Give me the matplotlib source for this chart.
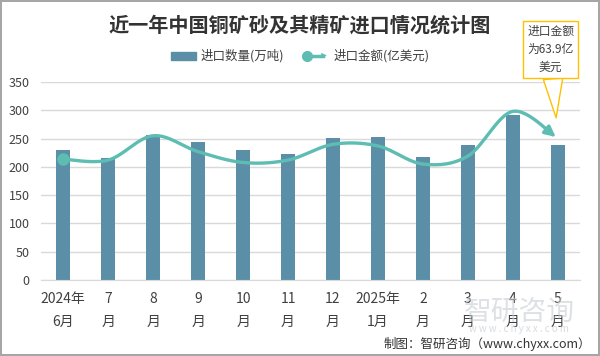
import numpy as np
import matplotlib
matplotlib.use("Agg")
import matplotlib.pyplot as plt
from matplotlib.legend_handler import HandlerBase
from matplotlib.lines import Line2D
from matplotlib.patches import Patch, FancyArrowPatch

plt.rcParams["font.family"] = ["Noto Sans CJK SC", "DejaVu Sans"]

months = ["2024年\n6月", "7\n月", "8\n月", "9\n月", "10\n月", "11\n月", "12\n月",
          "2025年\n1月", "2\n月", "3\n月", "4\n月", "5\n月"]
volume = [230, 216, 256, 244, 230, 223, 251, 253, 218, 239, 292, 239]      # 万吨
amount = [54.6, 54.2, 65.2, 58.0, 53.1, 54.2, 61.3, 60.6, 52.4, 56.0, 76.2, 63.9]  # 亿美元

bar_color = "#5B8FA8"
line_color = "#5DBDB3"
text_color = "#404040"


def smooth(xs, ys, n=30):
    # bezier smoothing like office charts (tension 1/6)
    p = np.column_stack([xs, ys]).astype(float)
    ext = np.vstack([p[0], p, p[-1]])
    out = []
    for i in range(len(p) - 1):
        p0, p3 = ext[i + 1], ext[i + 2]
        c1 = p0 + (ext[i + 2] - ext[i]) / 6
        c2 = p3 - (ext[i + 3] - ext[i + 1]) / 6
        t = np.linspace(0, 1, n)[:, None]
        seg = ((1 - t) ** 3 * p0 + 3 * (1 - t) ** 2 * t * c1
               + 3 * (1 - t) * t ** 2 * c2 + t ** 3 * p3)
        out.append(seg if i == 0 else seg[1:])
    out = np.vstack(out)
    return out[:, 0], out[:, 1]


class LineArrowHandler(HandlerBase):
    def create_artists(self, legend, orig_handle, xd, yd, width, height, fontsize, trans):
        y = height / 2 - yd
        ln = Line2D([-xd + 2, -xd + width - 4], [y, y], color=line_color, lw=2.5, transform=trans)
        dot = Line2D([-xd + 3], [y], marker="o", ms=7, color=line_color, transform=trans)
        arr = FancyArrowPatch((-xd + width - 8, y), (-xd + width + 1, y), arrowstyle="-|>",
                              mutation_scale=10, color=line_color, transform=trans, lw=0)
        return [ln, dot, arr]


fig = plt.figure(figsize=(6.0, 3.56), dpi=100)
fig.patch.set_edgecolor("#A6A6A6")
fig.patch.set_linewidth(1.5)
ax = fig.add_axes([0.068, 0.2135, 0.899, 0.556])
x = np.arange(len(months))

ax.bar(x, volume, width=0.31, color=bar_color, zorder=2)
ax.set_xlim(-0.5, len(months) - 0.5)
ax.set_ylim(0, 350)
ax.set_yticks(range(0, 351, 50))
ax.grid(axis="y", color="#D9D9D9", lw=1, zorder=0)
ax.set_axisbelow(True)
for s in ["left", "right", "top"]:
    ax.spines[s].set_visible(False)
ax.spines["bottom"].set_color("#D9D9D9")
ax.tick_params(axis="y", length=0, labelsize=9, colors=text_color, pad=8)
ax.tick_params(axis="x", length=0, labelsize=10, colors=text_color, pad=9)
ax.set_xticks(x)
ax.set_xticklabels(months, linespacing=1.75)

ax2 = ax.twinx()
ax2.set_ylim(0, 350 * amount[-1] / 250)
ax2.axis("off")
sx, sy = smooth(x, amount)
ax2.plot(sx[:-6], sy[:-6], color=line_color, lw=2.4, zorder=3, solid_capstyle="round")
ax2.annotate("", xy=(sx[-1], sy[-1]), xytext=(sx[-8], sy[-8]),
             arrowprops=dict(arrowstyle="-|>", color=line_color, lw=2.4, mutation_scale=15))
ax2.plot(x[0], amount[0], "o", color=line_color, ms=8, zorder=4)

ax2.annotate("进口金额\n为%.1f亿\n美元" % amount[-1], xy=(x[-1], amount[-1]),
             xytext=(-5, 64), textcoords="offset points", ha="center", va="center",
             fontsize=8.5, color=text_color, linespacing=1.5,
             bbox=dict(boxstyle="square,pad=0.35", fc="white", ec="#FFC000", lw=1),
             arrowprops=dict(arrowstyle="wedge,tail_width=1.0", fc="white", ec="#FFC000",
                             lw=1, shrinkB=15, shrinkA=0, mutation_scale=14))

fig.text(0.5, 0.93, "近一年中国铜矿砂及其精矿进口情况统计图", ha="center", va="center",
         fontsize=14.5, fontweight="bold", color="#333333")

handles = [Patch(color=bar_color), Line2D([], [])]
fig.legend(handles, ["进口数量(万吨)", "进口金额(亿美元)"], loc="center",
           bbox_to_anchor=(0.5, 0.842), ncol=2, frameon=False, fontsize=9,
           handlelength=2.0, handleheight=0.6, columnspacing=1.5, handletextpad=0.4,
           handler_map={Line2D: LineArrowHandler()}, labelcolor=text_color)

# watermark
fig.text(0.865, 0.125, "智研咨询", ha="center", va="center", fontsize=20,
         color="#C8CDD2", alpha=0.6, zorder=0)
fig.text(0.865, 0.075, "w w w . c h y x x . c o m", ha="center", va="center",
         fontsize=7, color="#C8CDD2", alpha=0.7, zorder=0)

fig.text(0.985, 0.035, "制图：智研咨询（www.chyxx.com）", ha="right", va="center",
         fontsize=9, color="#333333")

fig.savefig("out.png", dpi=100)
